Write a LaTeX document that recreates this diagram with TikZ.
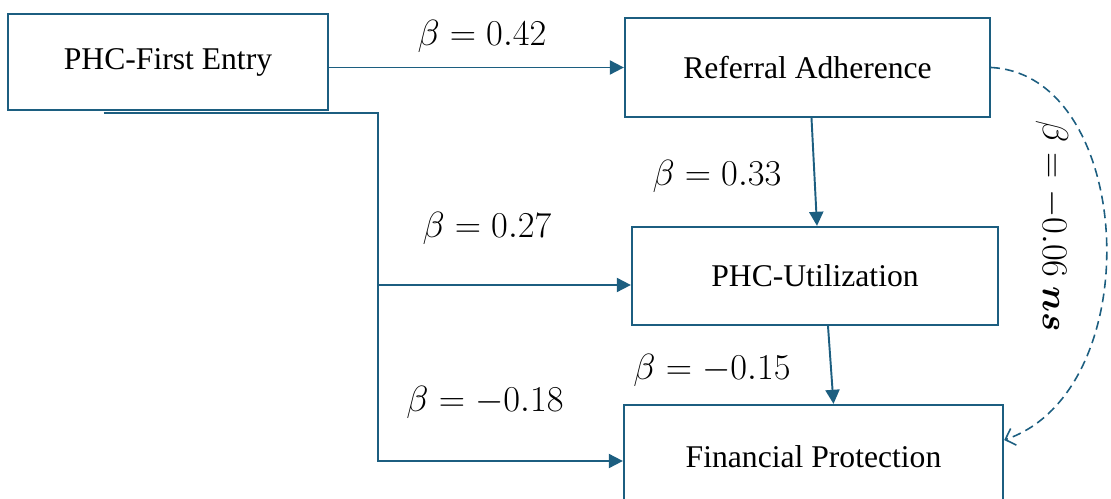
\documentclass[tikz,border=0pt]{standalone}
\usepackage{fontspec}
\setmainfont{Liberation Serif}
\usepackage{bm}
\usetikzlibrary{arrows.meta,calc}
\definecolor{pathblue}{RGB}{28,94,128}

\begin{document}
\begin{tikzpicture}
[x=0.02cm,y=-0.02cm,
  boxDecorate/.style={draw=pathblue,line width=1.3pt,inner sep=0pt,font=\fontsize{18}{21}\selectfont},%
  lineDecorate/.style={draw=pathblue,line width=1.1pt,-{Triangle[length=8pt,width=8pt]}},
  dashDecorate/.style={draw=pathblue,line width=0.9pt,dash pattern=on 5pt off 3pt,-{Straight Barb[length=5pt,width=10pt]}},
  betaDecorate/.style={inner sep=0pt,font=\fontsize{20}{23}\selectfont}]
\useasboundingbox (0,0) rectangle (1111,499);
%% boxes
\foreach \nodename/\x/\y/\w/\h/\txt in {
  first/168/62/320/96/PHC-First Entry,
  refer/807.5/67.5/365/99/Referral Adherence,
  util/815/276/366/98/PHC-Utilization,
  fin/813.5/457/379/104/Financial Protection}
{
  \node (\nodename) at (\x,\y) [boxDecorate,minimum width=\w*0.02cm,minimum height=\h*0.02cm] {\txt};
}
%% coefficients
\foreach \nodename/\x/\y/\val in {
  b1/482/36/0.42,
  b2/717/176/0.33,
  b3/487/228/0.27,
  b4/712/370/-0.15,
  b5/485/402/-0.18}
{
  \node (\nodename) at (\x,\y) [betaDecorate] {$\beta = \val$};
}
\node (b6) at (1052,226) [betaDecorate,rotate=-90] {$\beta = -0.06\ \bm{ns}$};
%% paths
\coordinate (tap) at ($(first.south west)!0.3!(first.south east)$);
\coordinate (trunk) at (378,285);
\draw[lineDecorate] (first.east |- refer.west) -- (refer.west);
\draw[lineDecorate] ($(refer.south)+(4,0)$) -- ($(util.north)+(2,0)$);
\draw[lineDecorate] ($(util.south)+(13,0)$) -- ($(fin.north)+(20,0)$);
\draw[lineDecorate] ($(tap)+(0,2)$) -| (trunk) |- ($(fin.west)+(0,4)$);
\draw[lineDecorate] (trunk) -- (util.west |- trunk);
\draw[dashDecorate] (refer.east) .. controls (1135,75) and (1150,390) .. ($(fin.east)+(0,-17)$);
\end{tikzpicture}
\end{document}
